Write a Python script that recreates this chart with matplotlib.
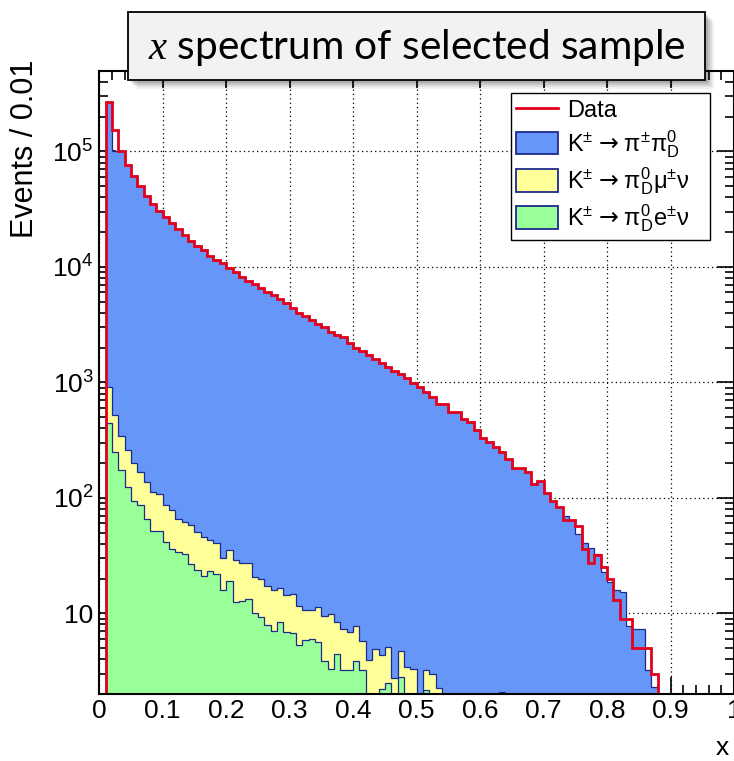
import numpy as np
import matplotlib
matplotlib.use("Agg")
import matplotlib.pyplot as plt
from matplotlib.lines import Line2D
from matplotlib.patches import Patch, Rectangle
from matplotlib.ticker import MultipleLocator, LogLocator, FuncFormatter, NullFormatter

plt.rcParams['font.family'] = ['Liberation Sans', 'DejaVu Sans']
plt.rcParams['mathtext.fontset'] = 'custom'
plt.rcParams['mathtext.rm'] = 'Liberation Sans'
plt.rcParams['mathtext.it'] = 'Liberation Serif:italic'
plt.rcParams['mathtext.bf'] = 'Liberation Sans:bold'
plt.rcParams['mathtext.sf'] = 'DejaVu Sans'

W, H = 734, 761

# bins of 0.01 in x
edges = np.round(np.arange(101) * 0.01, 2)

# events per bin
data = [0,
        266000, 152000, 101000, 76700, 61600, 49700, 41300, 35200, 30200, 26800,
        23900, 21200, 19000, 16900, 15300, 13900, 12500, 11500, 10800, 9870,
        9110, 8250, 7610, 7120, 6530, 6100, 5700, 5250, 4900, 4430,
        4020, 3760, 3470, 3200, 3000, 2720, 2570, 2470, 2200, 1990,
        1880, 1720, 1600, 1460, 1350, 1260, 1170, 1080, 980, 905,
        830, 751, 649, 649, 557, 557, 478, 456, 386, 327,
        306, 277, 251, 219, 183, 183, 168, 131, 140, 111,
        94, 83, 64, 64, 57, 36, 27, 32, 25, 20,
        13, 9, 9, 5, 5, 5, 3, 0, 0, 0,
        0, 0, 0, 0, 0, 0, 0, 0, 0]

# stacked MC levels (top of each layer)
mc_total = [0,
            266000, 100000, 101000, 76700, 61600, 49700, 41300, 35200, 30200, 26800,
            23900, 21200, 19000, 16900, 15300, 13900, 12500, 11500, 10800, 9870,
            9110, 8250, 7610, 7120, 6530, 6100, 5700, 5250, 4900, 4430,
            4020, 3760, 3470, 3200, 3000, 2720, 2570, 2470, 2200, 1990,
            1880, 1720, 1600, 1460, 1350, 1260, 1170, 1080, 980, 905,
            830, 751, 649, 649, 557, 557, 478, 456, 386, 327,
            306, 277, 251, 219, 183, 183, 168, 131, 140, 111,
            94, 83, 69, 64, 49, 40.7, 37, 32.4, 22.8, 18.7,
            16, 15.3, 7.8, 7.25, 7.25, 3.24, 2.32, 0, 0, 0,
            0, 0, 0, 0, 0, 0, 0, 0, 0]

kmu3_top = [0,
            904, 520, 342, 259, 201, 168, 137, 113, 107, 86,
            78, 65, 62, 58, 51, 46, 43, 41, 30, 35,
            29, 27, 27.3, 20.6, 20, 17.1, 16, 16.6, 14.3, 14.8,
            11.5, 10.7, 10.6, 11.3, 9.4, 9.8, 8.4, 7.35, 6.87, 7.69,
            5.73, 3.95, 4.86, 4.36, 5.15, 2.74, 4.7, 3.41, 3.3, 0,
            3.2, 3.0, 2.26, 0, 0, 0, 0, 0, 0, 0,
            0, 0, 2.1, 0, 0, 0, 0, 0, 0, 0] + [0] * 29

ke3_top = [0,
           441, 250, 174, 123, 94, 86, 65, 52, 52, 41.5,
           36.3, 34, 32.4, 26.9, 23.9, 20.9, 23.3, 22.1, 15.8, 19.1,
           12.5, 12.8, 13.4, 10, 9.3, 7.9, 7.0, 8.4, 6.9, 6.7,
           5.3, 5.9, 6.0, 5.6, 3.9, 3.26, 4.46, 3.2, 3.2, 3.9,
           3.2, 0, 0, 2.22, 2.48, 0, 2.8, 0, 0, 0,
           2.18] + [0] * 48

labels = ['Data',
          r'$\mathrm{K^{\pm}}\ \mathsf{→}\ \mathrm{π^{\pm}π^{0}_{D}}$',
          r'$\mathrm{K^{\pm}}\ \mathsf{→}\ \mathrm{π^{0}_{D}μ^{\pm}ν}$',
          r'$\mathrm{K^{\pm}}\ \mathsf{→}\ \mathrm{π^{0}_{D}e^{\pm}ν}$']

c_blue = '#6596f8'
c_yellow = '#ffff99'
c_green = '#99ff99'
c_edge = '#1c2a8c'
c_red = '#e3001b'

ymin, ymax = 2, 5e5
floor = 1e-3


def fx(px):
    return px / W


def fy(py):
    return 1 - py / H


def level(a):
    a = np.asarray(a, dtype=float)
    return np.where(a > 0, a, floor)


fig = plt.figure(figsize=(W / 100, H / 100), dpi=100)
ax = fig.add_axes([fx(99.2), fy(694), fx(734) - fx(99.2), fy(70.7) - fy(694)])
ax.set_yscale('log')

for top, col in [(mc_total, c_blue), (kmu3_top, c_yellow), (ke3_top, c_green)]:
    ax.stairs(level(top), edges, baseline=floor, fill=True, color=col, lw=0, zorder=2)
    ax.stairs(level(top), edges, baseline=floor, color=c_edge, lw=0.9, zorder=3)

d = np.asarray(data, dtype=float)
ax.stairs(np.where(d > 0, d, ymin), edges, baseline=ymin, color=c_red, lw=2.0, zorder=5)

ax.set_xlim(0, 1)
ax.set_ylim(ymin, ymax)

ax.xaxis.set_major_locator(MultipleLocator(0.1))
ax.xaxis.set_minor_locator(MultipleLocator(0.02))
ax.xaxis.set_major_formatter(FuncFormatter(lambda v, p: '%g' % round(v, 2)))
ax.yaxis.set_major_locator(LogLocator(base=10))
ax.yaxis.set_minor_locator(LogLocator(base=10, subs=np.arange(2, 10)))
ax.yaxis.set_minor_formatter(NullFormatter())


def ylab(v, p):
    n = int(round(np.log10(v)))
    if n == 1:
        return '10'
    if n < 1:
        return ''
    return r'$\mathrm{10^{%d}}$' % n


ax.yaxis.set_major_formatter(FuncFormatter(ylab))

ax.tick_params(which='both', direction='in', top=True, right=True, width=1.2, colors='black')
ax.tick_params(which='major', length=12.5, labelsize=19)
ax.tick_params(which='minor', length=6.5)
ax.tick_params(axis='x', pad=3.5)
ax.tick_params(axis='y', pad=4)

ax.set_axisbelow(True)
ax.grid(True, which='major', color='black', lw=0.9, ls=(0, (1, 2.5)))
for s in ax.spines.values():
    s.set_linewidth(1.5)
    s.set_zorder(10)

handles = [Line2D([], [], color=c_red, lw=2),
           Patch(facecolor=c_blue, edgecolor=c_edge, lw=1.3),
           Patch(facecolor=c_yellow, edgecolor=c_edge, lw=1.3),
           Patch(facecolor=c_green, edgecolor=c_edge, lw=1.3)]
leg = ax.legend(handles, labels, loc='upper left',
                bbox_to_anchor=(fx(510.7), fy(241), fx(710) - fx(510.7), fy(92.7) - fy(241)),
                bbox_transform=fig.transFigure, mode='expand', borderaxespad=0,
                fontsize=17, frameon=True, fancybox=False, framealpha=1,
                edgecolor='black', handlelength=1.8, handleheight=1.1,
                handletextpad=0.35, labelspacing=0.24, borderpad=0.22)
leg.get_frame().set_linewidth(1.0)
leg.set_zorder(20)

fig.text(fx(25), fy(60), 'Events / 0.01', rotation=90, ha='center', va='top', fontsize=22)
fig.text(fx(722), fy(755), 'x', ha='center', va='baseline', fontsize=19)

# title box with soft shadow
bx0, bx1, by0, by1 = 128, 705, 12, 80
for off, a in [(9, 0.06), (7, 0.08), (5, 0.1), (3, 0.12)]:
    fig.add_artist(Rectangle((fx(bx0 + off), fy(by1 + off)), fx(bx1) - fx(bx0), fy(by0) - fy(by1),
                             transform=fig.transFigure, facecolor='black', edgecolor='none',
                             alpha=a, zorder=30))
fig.add_artist(Rectangle((fx(bx0), fy(by1)), fx(bx1) - fx(bx0), fy(by0) - fy(by1),
                         transform=fig.transFigure, facecolor='#f2f2f2', edgecolor='black',
                         lw=1.3, zorder=31))
title = fig.text(fx((bx0 + bx1) / 2), fy(59), r'$x$ spectrum of selected sample',
                 ha='center', va='baseline', fontsize=28, family=['Lato', 'DejaVu Sans'], zorder=32)
fig.canvas.draw()
tw = title.get_window_extent().width
title.set_fontsize(28 * 537 / tw)

fig.savefig('out.png', dpi=100)
